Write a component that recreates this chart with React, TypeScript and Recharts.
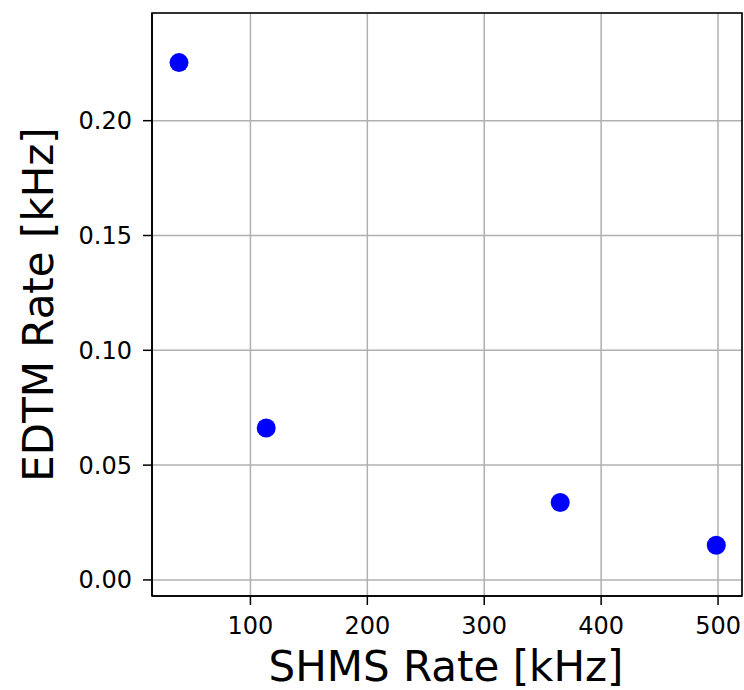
import {
  ScatterChart,
  Scatter,
  XAxis,
  YAxis,
  CartesianGrid,
  ReferenceArea,
  Label,
} from "recharts";

const shmsRate = [38.9, 113.5, 365, 498.5];
const edtmRate = [0.2253, 0.0662, 0.0337, 0.0151];
const xTicks = [100, 200, 300, 400, 500];
const yTicks = [0, 0.05, 0.1, 0.15, 0.2];

const X_DOMAIN: [number, number] = [15.8, 520.5];
const Y_DOMAIN: [number, number] = [-0.007, 0.2469];

const FONT = "DejaVu Sans";

const points = shmsRate.map((x, i) => ({ x, y: edtmRate[i] }));

function Dot(props: any) {
  const { cx, cy } = props;
  return <circle cx={cx} cy={cy} r={9.5} fill="#0000ff" />;
}

export default function App() {
  return (
    <div style={{ position: "absolute", left: 0, top: 0, background: "#fff" }}>
      <ScatterChart
        width={744}
        height={690}
        margin={{ top: 13, right: 2, bottom: 0, left: 0 }}
        style={{ fontFamily: FONT }}
      >
        <CartesianGrid stroke="#b0b0b0" strokeWidth={1.5} />
        <XAxis
          type="number"
          dataKey="x"
          domain={X_DOMAIN}
          ticks={xTicks}
          allowDataOverflow
          height={94}
          tickSize={9}
          tickMargin={12}
          tick={{ fontSize: 24, fill: "#000", fontFamily: FONT }}
          tickLine={{ stroke: "#000", strokeWidth: 1.5 }}
          axisLine={{ stroke: "#000", strokeWidth: 1.6 }}
        >
          <Label
            content={({ viewBox }: any) => (
              <text
                x={viewBox.x + viewBox.width / 2 - 1}
                y={681}
                textAnchor="middle"
                fontSize={42}
                fontFamily={FONT}
                fill="#000"
              >
                SHMS Rate [kHz]
              </text>
            )}
          />
        </XAxis>
        <YAxis
          type="number"
          dataKey="y"
          domain={Y_DOMAIN}
          ticks={yTicks}
          allowDataOverflow
          width={152}
          tickSize={9}
          tickMargin={11}
          tickFormatter={(v: number) => v.toFixed(2)}
          tick={{ fontSize: 24, fill: "#000", fontFamily: FONT }}
          tickLine={{ stroke: "#000", strokeWidth: 1.5 }}
          axisLine={{ stroke: "#000", strokeWidth: 1.6 }}
        >
          <Label
            content={({ viewBox }: any) => {
              const cx = 53;
              const cy = viewBox.y + viewBox.height / 2;
              return (
                <text
                  x={cx}
                  y={cy}
                  transform={`rotate(-90 ${cx} ${cy})`}
                  textAnchor="middle"
                  fontSize={42}
                  fontFamily={FONT}
                  fill="#000"
                >
                  EDTM Rate [kHz]
                </text>
              );
            }}
          />
        </YAxis>
        <ReferenceArea
          x1={X_DOMAIN[0]}
          x2={X_DOMAIN[1]}
          y1={Y_DOMAIN[0]}
          y2={Y_DOMAIN[1]}
          fill="none"
          stroke="#000"
          strokeWidth={1.6}
          ifOverflow="visible"
        />
        <Scatter data={points} shape={Dot} isAnimationActive={false} />
      </ScatterChart>
    </div>
  );
}
